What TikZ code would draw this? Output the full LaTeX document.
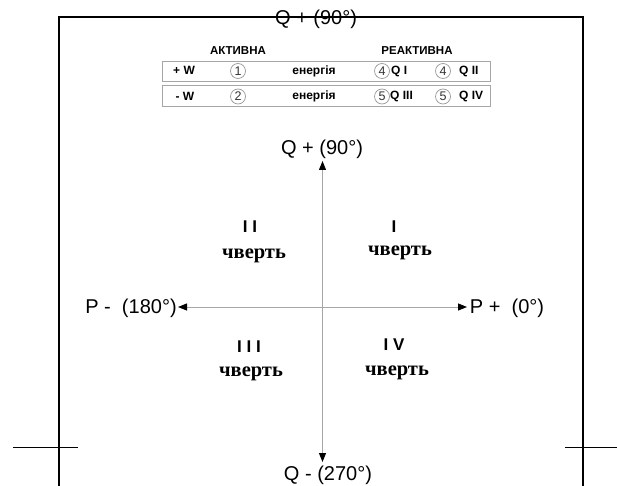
\documentclass[tikz,border=0pt]{standalone}
\usepackage{fontspec}
\setmainfont{Liberation Sans}
\newfontfamily\serifcyr{Liberation Serif}
\usetikzlibrary{arrows.meta}
\begin{document}
\begin{tikzpicture}[x=1pt,y=-1pt,
  frame/.style={line width=1.5pt,black},
  tick/.style={line width=1pt,black},
  axis/.style={line width=0.9pt,draw=black!35,-{Triangle[length=9pt,width=7pt,color=black]}},
  axlabel/.style={font=\fontsize{20}{24}\selectfont,inner sep=0pt},
  quad/.style={font=\bfseries\fontsize{17}{20}\selectfont,inner sep=0pt},
  chv/.style={font=\serifcyr\bfseries\fontsize{20.5}{24}\selectfont,inner sep=0pt},
  head/.style={font=\bfseries\fontsize{11.5}{13}\selectfont,inner sep=0pt},
  cell/.style={font=\bfseries\fontsize{12}{14}\selectfont,inner sep=0pt},
  num/.style={circle,draw=black!40,line width=0.7pt,minimum size=15pt,inner sep=0pt,font=\fontsize{12.5}{14}\selectfont,text=black!80},
  rowbox/.style={draw=black!35,line width=0.8pt}
]
\useasboundingbox (0,0) rectangle (617,486);
\fill[white] (0,0) rectangle (617,486);

% frame
\coordinate (fTL) at (59,17);
\coordinate (fTR) at (583,17);
\coordinate (fBL) at (59,486);
\coordinate (fBR) at (583,486);
\draw[frame] (fBL) -- (fTL) -- (fTR) -- (fBR);
\coordinate (tl1) at (13,447); \coordinate (tl2) at (78,447);
\coordinate (tr1) at (565,447); \coordinate (tr2) at (617,447);
\draw[tick] (tl1) -- (tl2);
\draw[tick] (tr1) -- (tr2);
\node[axlabel] (qtoptitle) at (316,19) {Q + (90°)};

% table
\node[rowbox,minimum width=328pt,minimum height=20pt,inner sep=0pt] (row1) at (326,71) {};
\node[rowbox,minimum width=328pt,minimum height=21pt,inner sep=0pt] (row2) at (326,95.5) {};
\node[head] (hA) at (238,51) {АКТИВНА};
\node[head] (hR) at (417,51) {РЕАКТИВНА};
\node[cell] (pw) at (184,70) {+ W};
\node[cell] (mw) at (185,96) {- W};
\node[num] (c1) at (238,71) {1};
\node[num] (c2) at (238,96.5) {2};
\node[cell] (e1) at (314,71) {енергія};
\node[cell] (e2) at (314,96.5) {енергія};
\node[num] (c4a) at (382,71) {4};
\node[cell,anchor=west] (q1) at (391,71) {Q I};
\node[num] (c4b) at (443,71) {4};
\node[cell,anchor=west] (q2) at (459,71) {Q II};
\node[num] (c5a) at (382,96.5) {5};
\node[cell,anchor=west] (q3) at (390,96.5) {Q III};
\node[num] (c5b) at (443,96.5) {5};
\node[cell,anchor=west] (q4) at (459,96.5) {Q IV};

% axes
\coordinate (O) at (322.5,307);
\coordinate (tipN) at (322.5,161);
\coordinate (tipS) at (322.5,462);
\coordinate (tipW) at (178,307);
\coordinate (tipE) at (467,307);
\draw[axis] (O) -- (tipN);
\draw[axis] (O) -- (tipS);
\draw[axis] (O) -- (tipW);
\draw[axis] (O) -- (tipE);
\node[axlabel] (qtop) at (322,149) {Q + (90°)};
\node[axlabel] (qbot) at (328,475) {Q - (270°)};
\node[axlabel] (pminus) at (131,308) {P -\ \ (180°)};
\node[axlabel] (pplus) at (507,308) {P +\ \ (0°)};

% quadrants
\node[quad] (r2) at (250,227) {I I};
\node[chv] (v2) at (254,256) {чверть};
\node[quad] (r1) at (394,227) {I};
\node[chv] (v1) at (400,253) {чверть};
\node[quad] (r3) at (249,347) {I I I};
\node[chv] (v3) at (251,374) {чверть};
\node[quad] (r4) at (394,345) {I V};
\node[chv] (v4) at (397,373) {чверть};
\end{tikzpicture}
\end{document}
